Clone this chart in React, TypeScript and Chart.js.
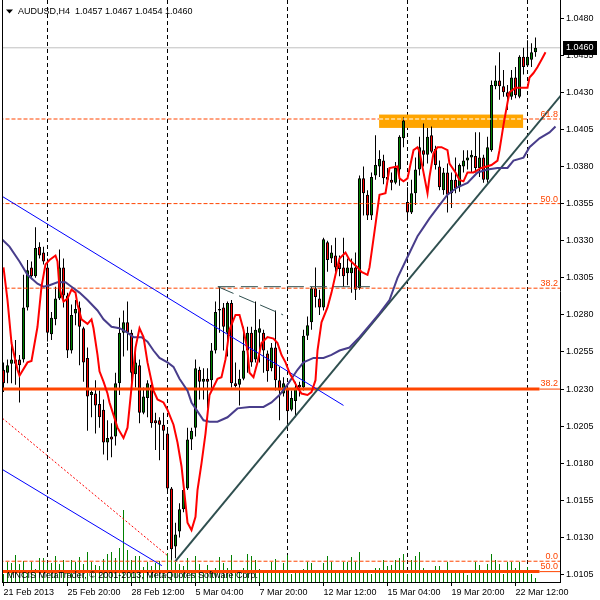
import React, { useEffect, useRef } from 'react';
import { Chart, registerables } from 'chart.js';

Chart.register(...registerables);

// ---- axis labels / ticks ----
const tickBars = [0, 16, 32, 48, 64, 80, 96, 112, 128];
const tickLabels = ['21 Feb 2013', '25 Feb 20:00', '28 Feb 12:00', '5 Mar 04:00', '7 Mar 20:00', '12 Mar 12:00', '15 Mar 04:00', '19 Mar 20:00', '22 Mar 12:00'];
const gridBars = [11, 41, 71, 101, 131];
const priceTicks = [1.0105, 1.013, 1.0155, 1.018, 1.0205, 1.023, 1.0255, 1.028, 1.0305, 1.033, 1.0355, 1.038, 1.0405, 1.043, 1.0455, 1.048];

// ---- AUDUSD H4 candles ----
const opens = [
  1.0243, 1.0241, 1.0247, 1.0250, 1.0250, 1.0250, 1.0285, 1.0312, 1.0306, 1.0326,
  1.0322, 1.0312, 1.0267, 1.0277, 1.0291, 1.0312, 1.0293, 1.0256, 1.0281, 1.0285,
  1.0271, 1.0251, 1.0226, 1.0227, 1.0220, 1.0216, 1.0194, 1.0198, 1.0198, 1.0234,
  1.0268, 1.0275, 1.0268, 1.0240, 1.0246, 1.0214, 1.0224, 1.0233, 1.0209, 1.0209,
  1.0206, 1.0200, 1.0163, 1.0124, 1.0134, 1.0149, 1.0163, 1.0196, 1.0204, 1.0243,
  1.0235, 1.0237, 1.0236, 1.0256, 1.0284, 1.0285, 1.0268, 1.0288, 1.0234, 1.0233,
  1.0237, 1.0256, 1.0268, 1.0250, 1.0268, 1.0268, 1.0254, 1.0244, 1.0258, 1.0236,
  1.0227, 1.0230, 1.0216, 1.0222, 1.0233, 1.0231, 1.0266, 1.0275, 1.0298, 1.0291,
  1.0285, 1.0329, 1.0318, 1.0320, 1.0315, 1.0312, 1.0308, 1.0308, 1.0312, 1.0298,
  1.0372, 1.0361, 1.0347, 1.0374, 1.0380, 1.0384, 1.0373, 1.0371, 1.0369, 1.0378,
  1.0399, 1.0356, 1.0349, 1.0362, 1.0378, 1.0391, 1.0388, 1.0401, 1.0392, 1.0380,
  1.0364, 1.0376, 1.0362, 1.0371, 1.0366, 1.0380, 1.0384, 1.0386, 1.0387, 1.0379,
  1.0386, 1.0371, 1.0391, 1.0434, 1.0438, 1.0434, 1.0430, 1.0427, 1.0440, 1.0427,
  1.0454, 1.0448, 1.0452, 1.0457,
];
const highs = [
  1.0248, 1.0250, 1.0264, 1.0263, 1.0253, 1.0307, 1.0317, 1.0316, 1.0339, 1.0329,
  1.0326, 1.0318, 1.0282, 1.0299, 1.0324, 1.0318, 1.0295, 1.0287, 1.0290, 1.0289,
  1.0272, 1.0258, 1.0229, 1.0236, 1.0229, 1.0223, 1.0209, 1.0207, 1.0241, 1.0278,
  1.0283, 1.0289, 1.0270, 1.0256, 1.0250, 1.0231, 1.0236, 1.0236, 1.0214, 1.0211,
  1.0214, 1.0204, 1.0164, 1.0140, 1.0153, 1.0165, 1.0204, 1.0204, 1.0250, 1.0245,
  1.0244, 1.0244, 1.0261, 1.0289, 1.0299, 1.0288, 1.0289, 1.0290, 1.0248, 1.0243,
  1.0272, 1.0272, 1.0272, 1.0289, 1.0277, 1.0270, 1.0256, 1.0261, 1.0283, 1.0245,
  1.0238, 1.0234, 1.0229, 1.0235, 1.0235, 1.0270, 1.0279, 1.0299, 1.0312, 1.0297,
  1.0332, 1.0330, 1.0327, 1.0332, 1.0320, 1.0332, 1.0318, 1.0318, 1.0322, 1.0374,
  1.0380, 1.0364, 1.0376, 1.0401, 1.0391, 1.0388, 1.0379, 1.0376, 1.0383, 1.0401,
  1.0413, 1.0366, 1.0371, 1.0386, 1.0400, 1.0409, 1.0406, 1.0407, 1.0394, 1.0384,
  1.0379, 1.0382, 1.0376, 1.0386, 1.0382, 1.0391, 1.0391, 1.0391, 1.0403, 1.0403,
  1.0388, 1.0400, 1.0438, 1.0448, 1.0457, 1.0445, 1.0435, 1.0445, 1.0447, 1.0455,
  1.0460, 1.0465, 1.0463, 1.0467,
];
const lows = [
  1.0228, 1.0234, 1.0234, 1.0233, 1.0221, 1.0248, 1.0283, 1.0304, 1.0305, 1.0318,
  1.0314, 1.0262, 1.0263, 1.0273, 1.0290, 1.0285, 1.0251, 1.0254, 1.0273, 1.0246,
  1.0235, 1.0202, 1.0211, 1.0200, 1.0204, 1.0186, 1.0182, 1.0184, 1.0192, 1.0226,
  1.0252, 1.0256, 1.0234, 1.0231, 1.0207, 1.0213, 1.0211, 1.0204, 1.0189, 1.0182,
  1.0189, 1.0162, 1.0115, 1.0116, 1.0130, 1.0147, 1.0162, 1.0189, 1.0198, 1.0223,
  1.0223, 1.0217, 1.0229, 1.0254, 1.0268, 1.0256, 1.0252, 1.0231, 1.0231, 1.0219,
  1.0236, 1.0241, 1.0245, 1.0248, 1.0248, 1.0241, 1.0235, 1.0242, 1.0229, 1.0209,
  1.0225, 1.0206, 1.0215, 1.0211, 1.0225, 1.0229, 1.0263, 1.0270, 1.0285, 1.0280,
  1.0283, 1.0309, 1.0315, 1.0309, 1.0306, 1.0299, 1.0300, 1.0295, 1.0290, 1.0297,
  1.0347, 1.0344, 1.0344, 1.0371, 1.0373, 1.0368, 1.0368, 1.0364, 1.0368, 1.0367,
  1.0393, 1.0344, 1.0348, 1.0354, 1.0374, 1.0380, 1.0382, 1.0389, 1.0378, 1.0364,
  1.0361, 1.0349, 1.0352, 1.0362, 1.0363, 1.0376, 1.0378, 1.0376, 1.0376, 1.0373,
  1.0369, 1.0369, 1.0390, 1.0432, 1.0425, 1.0427, 1.0418, 1.0425, 1.0426, 1.0426,
  1.0442, 1.0447, 1.0447, 1.0454,
];
const closes = [
  1.0234, 1.0246, 1.0250, 1.0247, 1.0246, 1.0285, 1.0310, 1.0306, 1.0325, 1.0320,
  1.0316, 1.0268, 1.0278, 1.0291, 1.0312, 1.0293, 1.0256, 1.0280, 1.0284, 1.0272,
  1.0248, 1.0225, 1.0228, 1.0219, 1.0211, 1.0194, 1.0197, 1.0196, 1.0234, 1.0268,
  1.0275, 1.0268, 1.0241, 1.0248, 1.0214, 1.0225, 1.0234, 1.0207, 1.0207, 1.0206,
  1.0202, 1.0163, 1.0122, 1.0132, 1.0149, 1.0162, 1.0196, 1.0202, 1.0244, 1.0235,
  1.0237, 1.0235, 1.0256, 1.0282, 1.0283, 1.0272, 1.0288, 1.0234, 1.0232, 1.0237,
  1.0256, 1.0268, 1.0248, 1.0270, 1.0271, 1.0256, 1.0242, 1.0258, 1.0236, 1.0229,
  1.0234, 1.0215, 1.0224, 1.0231, 1.0231, 1.0266, 1.0273, 1.0298, 1.0292, 1.0285,
  1.0331, 1.0317, 1.0322, 1.0312, 1.0311, 1.0306, 1.0312, 1.0312, 1.0297, 1.0372,
  1.0362, 1.0347, 1.0373, 1.0381, 1.0385, 1.0372, 1.0371, 1.0369, 1.0379, 1.0400,
  1.0411, 1.0349, 1.0362, 1.0378, 1.0393, 1.0388, 1.0400, 1.0390, 1.0381, 1.0366,
  1.0376, 1.0361, 1.0371, 1.0365, 1.0381, 1.0384, 1.0386, 1.0388, 1.0379, 1.0386,
  1.0371, 1.0393, 1.0435, 1.0438, 1.0434, 1.0430, 1.0427, 1.0440, 1.0428, 1.0454,
  1.0447, 1.0454, 1.0457, 1.0460,
];
const volumes = [
  8, 20, 19, 27, 18, 21, 11, 20, 13, 24,
  24, 19, 19, 26, 18, 22, 9, 22, 20, 25,
  18, 30, 20, 17, 16, 23, 28, 30, 24, 34,
  72, 32, 22, 26, 26, 15, 20, 16, 19, 21,
  12, 29, 35, 20, 18, 16, 24, 10, 26, 18,
  11, 17, 9, 14, 25, 19, 14, 27, 11, 9,
  14, 28, 26, 22, 13, 9, 11, 20, 23, 9,
  19, 27, 8, 12, 10, 13, 20, 19, 10, 10,
  19, 26, 20, 10, 12, 20, 20, 25, 20, 30,
  12, 10, 8, 14, 14, 22, 16, 17, 22, 24,
  28, 8, 22, 26, 30, 14, 12, 9, 16, 16,
  12, 20, 12, 10, 12, 10, 7, 10, 20, 17,
  12, 18, 28, 22, 18, 8, 20, 20, 14, 20,
  9, 15, 8, 4,
];

// ---- indicator lines [bar, price] ----
const fastMA = [
  [0, 1.0312], [1, 1.0290], [2, 1.0261], [3.5, 1.0243], [4, 1.0239], [6, 1.0248], [7, 1.0249], [8.5, 1.0272],
  [9.5, 1.0299], [10.5, 1.0314], [11.5, 1.0317], [13, 1.0320], [13.5, 1.0316], [14, 1.0298], [15, 1.0289],
  [16, 1.0291], [17, 1.0297], [18, 1.0295], [18.5, 1.0287], [19.5, 1.0277], [21, 1.0274], [22, 1.0277],
  [22.5, 1.0271], [23.5, 1.0253], [24, 1.0242], [25, 1.0235], [26, 1.0227], [26.5, 1.0221], [28.5, 1.0204],
  [30, 1.0197], [31, 1.0204], [32, 1.0231], [33, 1.0258], [34, 1.0271], [35, 1.0265], [36, 1.0248],
  [37.5, 1.0229], [38.5, 1.0223], [40, 1.0221], [41, 1.0216], [42.5, 1.0206], [43.5, 1.0194], [44.5, 1.0178],
  [45.5, 1.0153], [46, 1.0140], [47, 1.0135], [48, 1.0144], [48.5, 1.0162], [49.5, 1.0180], [50.5, 1.0200],
  [51.5, 1.0226], [53.5, 1.0237], [54.5, 1.0238], [55.5, 1.0250], [56.5, 1.0270], [58, 1.0280], [59, 1.0280],
  [60, 1.0270], [61, 1.0256], [61.5, 1.0241], [62.5, 1.0238], [63.5, 1.0248], [64.5, 1.0261], [66, 1.0265],
  [67.5, 1.0264], [68.5, 1.0261], [69.5, 1.0253], [70.5, 1.0248], [71.5, 1.0241], [73.5, 1.0231], [74.5, 1.0227],
  [76, 1.0226], [77, 1.0228], [78, 1.0236], [78.5, 1.0256], [79.5, 1.0275], [81, 1.0285], [82, 1.0295],
  [83, 1.0307], [84, 1.0318], [85.5, 1.0322], [86.5, 1.0317], [88.5, 1.0312], [89.5, 1.0309], [91, 1.0307],
  [91.5, 1.0312], [93, 1.0341], [94, 1.0361], [95.5, 1.0362], [96.5, 1.0379], [98.5, 1.0380], [99, 1.0372],
  [100, 1.0370], [101, 1.0372], [102.5, 1.0391], [103.5, 1.0393], [104, 1.0390], [105, 1.0376], [106, 1.0362],
  [106.5, 1.0373], [107.5, 1.0389], [108.5, 1.0393], [109.5, 1.0393], [111, 1.0391], [111.5, 1.0382],
  [113, 1.0376], [114, 1.0371], [115, 1.0370], [116, 1.0376], [117.5, 1.0376], [119.5, 1.0379], [122, 1.0381],
  [123.5, 1.0384], [124, 1.0391], [125, 1.0408], [126, 1.0423], [126.5, 1.0430], [128, 1.0433], [131, 1.0433],
  [131.5, 1.0440], [132.5, 1.0443], [133.5, 1.0447], [134.5, 1.0452], [135.5, 1.0457],
];
const slowMA = [
  [-0.4, 1.0331], [1.5, 1.0326], [4, 1.0316], [6, 1.0307], [8.5, 1.0301], [10, 1.0299], [11.5, 1.0300],
  [13.5, 1.0302], [15.5, 1.0302], [17, 1.0299], [19, 1.0295], [21, 1.0290], [23.5, 1.0283], [25, 1.0277],
  [27, 1.0272], [29, 1.0271], [31, 1.0268], [32.5, 1.0265], [34.5, 1.0265], [36, 1.0262], [37.5, 1.0256],
  [39, 1.0251], [41, 1.0248], [42.5, 1.0245], [44, 1.0237], [46, 1.0229], [47, 1.0221], [48.5, 1.0215],
  [50, 1.0209], [51.5, 1.0208], [53.5, 1.0208], [56, 1.0211], [58.5, 1.0217], [61.5, 1.0218], [65, 1.0218],
  [67, 1.0221], [69, 1.0226], [71, 1.0233], [73.5, 1.0243], [75, 1.0248], [77.5, 1.0251], [80, 1.0251],
  [82, 1.0253], [84, 1.0256], [86.5, 1.0258], [89, 1.0265], [91.5, 1.0273], [94, 1.0281], [96.5, 1.0290],
  [98.5, 1.0305], [101, 1.0319], [103.5, 1.0333], [105, 1.0339], [106.5, 1.0345], [109, 1.0354], [111, 1.0361],
  [113.5, 1.0366], [116, 1.0369], [118.5, 1.0376], [121, 1.0378], [123.5, 1.0379], [126, 1.0379],
  [127.5, 1.0384], [130, 1.0386], [131.5, 1.0393], [134, 1.0399], [136.5, 1.0403], [138, 1.0407],
];

// ---- drawn objects [bar, price] ----
const trendLine = [[43, 1.0114], [140, 1.0430]];
const channelTop = [[-1, 1.0361], [85, 1.0219]];
const channelBottom = [[-1, 1.0177], [39.6, 1.0111]];
const channelMid = [[-1, 1.0212], [40.9, 1.0118]];
const rangeTop = [[53.6, 1.0299], [91.6, 1.0299]];
const rangeSlope = [[53.6, 1.0299], [69.9, 1.0280]];
const zoneBars = [93.9, 129.9];
const zonePrices = [1.0406, 1.0415];
const fibDashLabels = ['61.8', '50.0', '38.2', '0.0'];
const fibDashPrices = [1.0412, 1.0355, 1.0298, 1.0114];
const fibSolidLabels = ['38.2', '50.0'];
const fibSolidPrices = [1.0230, 1.0107];

const FONT = '"Liberation Sans", Arial, sans-serif';
const FIB = '#FF4500';
const X_MIN = -0.375;
const X_MAX = 139.125;
const LAST = closes.length - 1;

function lineDs(points: number[][], color: string, width: number, dash: number[], order: number, extra: any = {}) {
  return {
    type: 'line',
    data: points.map(([x, y]) => ({ x, y })),
    borderColor: color,
    borderWidth: width,
    borderDash: dash,
    pointRadius: 0,
    pointHoverRadius: 0,
    fill: false,
    tension: 0,
    order,
    xAxisID: 'x',
    yAxisID: 'y',
    ...extra,
  };
}

const overlay = {
  id: 'mtOverlay',
  beforeDraw(chart: any) {
    const { ctx } = chart;
    ctx.save();
    ctx.fillStyle = '#FFFFFF';
    ctx.fillRect(0, 0, chart.width, chart.height);
    ctx.restore();
  },
  beforeDatasetsDraw(chart: any) {
    const { ctx, scales } = chart;
    const x = scales.x, y = scales.y;
    const x0 = x.getPixelForValue(zoneBars[0]);
    const x1 = x.getPixelForValue(zoneBars[1]);
    const y0 = y.getPixelForValue(zonePrices[1]);
    const y1 = y.getPixelForValue(zonePrices[0]);
    ctx.save();
    ctx.fillStyle = '#FFA500';
    ctx.fillRect(x0, y0, x1 - x0, y1 - y0);
    ctx.restore();
  },
  afterDraw(chart: any) {
    const { ctx, chartArea, scales } = chart;
    const y = scales.y;
    ctx.save();
    // left frame
    ctx.strokeStyle = '#000';
    ctx.lineWidth = 1;
    const lx = Math.round(chartArea.left) + 0.5;
    ctx.beginPath();
    ctx.moveTo(lx, chartArea.top);
    ctx.lineTo(lx, chartArea.bottom);
    ctx.stroke();

    // fib labels
    ctx.font = `9px ${FONT}`;
    ctx.fillStyle = FIB;
    ctx.textAlign = 'right';
    ctx.textBaseline = 'alphabetic';
    fibDashPrices.forEach((p, k) => ctx.fillText(fibDashLabels[k], chartArea.right - 2, y.getPixelForValue(p) - 2));
    fibSolidPrices.forEach((p, k) => ctx.fillText(fibSolidLabels[k], chartArea.right - 2, y.getPixelForValue(p) - 3));

    // title
    ctx.fillStyle = '#000';
    ctx.beginPath();
    ctx.moveTo(6, 9.5);
    ctx.lineTo(13, 9.5);
    ctx.lineTo(9.5, 13.5);
    ctx.closePath();
    ctx.fill();
    ctx.textAlign = 'left';
    ctx.textBaseline = 'middle';
    const t = `AUDUSD,H4  ${opens[LAST].toFixed(4)} ${highs[LAST].toFixed(4)} ${lows[LAST].toFixed(4)} ${closes[LAST].toFixed(4)}`;
    ctx.fillText(t, 18, 12);

    // copyright
    ctx.fillText('MNCIS MetaTrader, \u00A9 2001-2013, MetaQuotes Software Corp.', 7, 576);

    // current price box
    const py = Math.round(y.getPixelForValue(closes[LAST]));
    ctx.fillStyle = '#000';
    ctx.fillRect(chartArea.right + 3, py - 7, 34, 14);
    ctx.fillStyle = '#FFF';
    ctx.fillText(closes[LAST].toFixed(4), chartArea.right + 6, py);
    ctx.restore();
  },
};

export default function App() {
  const ref = useRef<HTMLCanvasElement | null>(null);

  useEffect(() => {
    const canvas = ref.current;
    if (!canvas) return;

    const idx = opens.map((_, i) => i);
    const wickData = idx.map((i) => ({ x: i, y: [lows[i], highs[i]] }));
    const bodyData = idx.map((i) => ({ x: i, y: [opens[i], closes[i]] }));
    const bodyColors = idx.map((i) => (closes[i] >= opens[i] ? '#008000' : '#FF0000'));
    const volData = idx.map((i) => ({ x: i, y: volumes[i] }));

    const fibDash = fibDashPrices.map((p, k) => {
      if (k === 0) {
        return lineDs([[-1, p], [zoneBars[0], p], [zoneBars[1], p], [140, p]], FIB, 1, [4, 2], 5, {
          segment: { borderColor: (c: any) => (c.p0DataIndex === 1 ? '#FFFFFF' : FIB) },
        });
      }
      return lineDs([[-1, p], [140, p]], FIB, 1, [4, 2], 5);
    });
    const fibSolid = fibSolidPrices.map((p) =>
      lineDs([[-1, p], [134, p], [140, p]], FIB, 3, [], 5, {
        segment: { borderWidth: (c: any) => (c.p0DataIndex === 1 ? 1 : 3) },
      })
    );

    const chart = new Chart(canvas, {
      type: 'bar',
      data: {
        datasets: [
          lineDs(fastMA, '#FF0000', 2, [], 1),
          lineDs(slowMA, '#483D8B', 2, [], 2),
          lineDs(trendLine, '#2F4F4F', 2, [], 3),
          lineDs(channelTop, '#0000FF', 1, [], 4),
          lineDs(channelBottom, '#0000FF', 1, [], 4),
          lineDs(channelMid, '#FF0000', 1, [2, 2], 4),
          lineDs(rangeTop, '#2F4F4F', 1, [17, 6], 4),
          lineDs(rangeSlope, '#2F4F4F', 1, [17, 6], 4),
          ...fibDash,
          ...fibSolid,
          {
            type: 'bar',
            data: bodyData,
            backgroundColor: bodyColors,
            borderColor: '#000000',
            borderWidth: 1,
            borderSkipped: false,
            barThickness: 3,
            minBarLength: 1,
            grouped: false,
            inflateAmount: 0,
            order: 10,
            xAxisID: 'x',
            yAxisID: 'y',
          },
          {
            type: 'bar',
            data: wickData,
            backgroundColor: '#000000',
            borderWidth: 0,
            barThickness: 1,
            grouped: false,
            inflateAmount: 0,
            order: 11,
            xAxisID: 'x',
            yAxisID: 'y',
          },
          lineDs([[-1, closes[LAST]], [140, closes[LAST]]], '#C0C0C0', 1, [], 12),
          {
            type: 'bar',
            data: volData,
            backgroundColor: '#008000',
            borderWidth: 0,
            barThickness: 1,
            grouped: false,
            inflateAmount: 0,
            order: 13,
            xAxisID: 'x',
            yAxisID: 'yv',
          },
        ] as any,
      },
      options: {
        responsive: false,
        maintainAspectRatio: false,
        animation: false,
        devicePixelRatio: 1,
        layout: { padding: { left: 2, right: 0, top: 0, bottom: 0 } },
        plugins: { legend: { display: false }, tooltip: { enabled: false } },
        events: [],
        scales: {
          x: {
            type: 'linear',
            position: 'bottom',
            min: X_MIN,
            max: X_MAX,
            offset: false,
            grid: { display: true, drawOnChartArea: false, drawTicks: true, tickLength: 4, color: '#000', offset: false },
            border: { display: true, color: '#000', width: 1 },
            ticks: {
              autoSkip: false,
              maxRotation: 0,
              minRotation: 0,
              align: 'start',
              padding: 1,
              color: '#000',
              font: { family: FONT, size: 9 },
              callback: (v: any) => {
                const k = tickBars.indexOf(Number(v));
                return k >= 0 ? tickLabels[k] : '';
              },
            },
            afterBuildTicks: (s: any) => {
              s.ticks = tickBars.map((v) => ({ value: v }));
            },
            afterFit: (s: any) => {
              s.height = 18;
              s.paddingLeft = 0;
              s.paddingRight = 0;
            },
          },
          xg: {
            type: 'linear',
            position: 'bottom',
            min: X_MIN,
            max: X_MAX,
            offset: false,
            ticks: { display: false },
            grid: { display: true, drawOnChartArea: true, drawTicks: false, color: '#000', lineWidth: 1, offset: false },
            border: { display: false, dash: [4, 3] },
            afterBuildTicks: (s: any) => {
              s.ticks = gridBars.map((v) => ({ value: v }));
            },
            afterFit: (s: any) => {
              s.height = 0;
              s.paddingLeft = 0;
              s.paddingRight = 0;
            },
          },
          y: {
            type: 'linear',
            position: 'right',
            min: 1.01,
            max: 1.04922,
            grid: { display: true, drawOnChartArea: false, drawTicks: true, tickLength: 4, color: '#000' },
            border: { display: true, color: '#000', width: 1 },
            ticks: {
              autoSkip: false,
              padding: 2,
              color: '#000',
              font: { family: FONT, size: 9 },
              callback: (v: any) => Number(v).toFixed(4),
            },
            afterBuildTicks: (s: any) => {
              s.ticks = priceTicks.map((v) => ({ value: v }));
            },
            afterFit: (s: any) => {
              s.width = 40;
              s.paddingTop = 0;
              s.paddingBottom = 0;
            },
          },
          yv: {
            type: 'linear',
            position: 'left',
            display: false,
            min: 0,
            max: 582,
          },
        },
      } as any,
      plugins: [overlay],
    });

    return () => chart.destroy();
  }, []);

  return (
    <div style={{ position: 'fixed', left: 0, top: 0, width: 600, height: 600, background: '#fff' }}>
      <canvas ref={ref} width={600} height={600} style={{ display: 'block', width: 600, height: 600 }} />
    </div>
  );
}
